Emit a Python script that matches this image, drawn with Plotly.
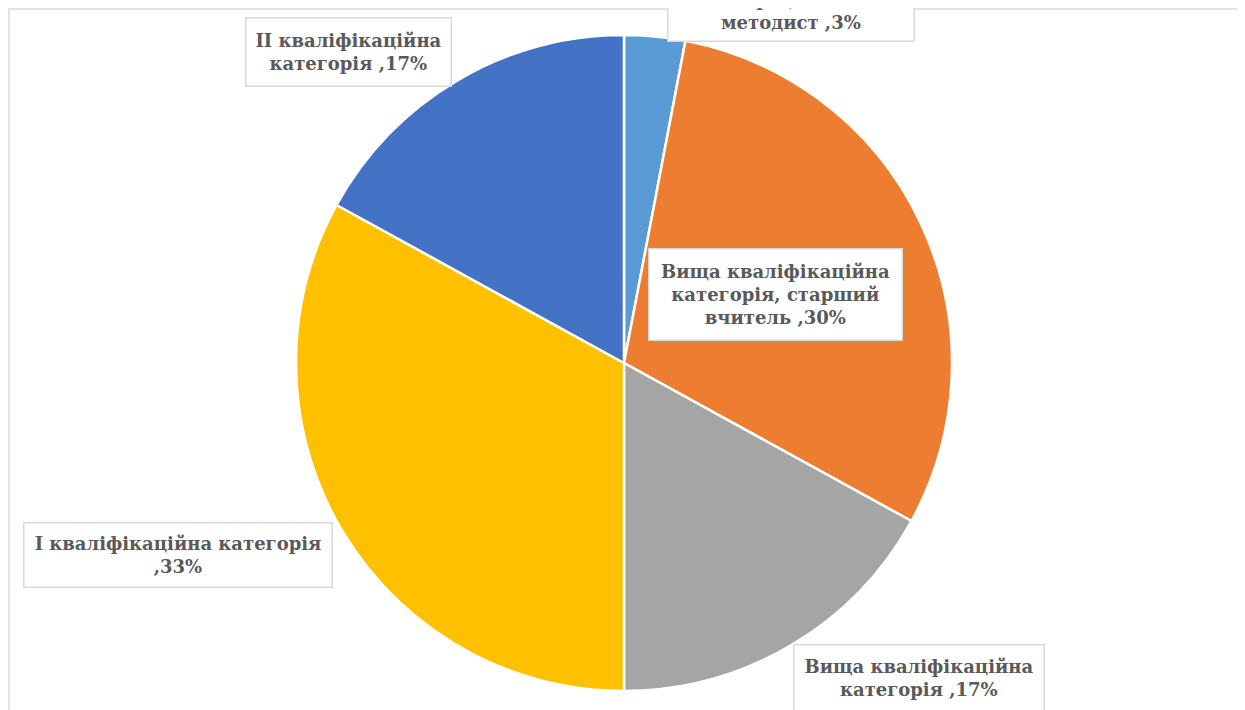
import plotly.graph_objects as go

categories = [
    "Вища кваліфікаційна категорія, вчитель-методист",
    "Вища кваліфікаційна категорія, старший вчитель",
    "Вища кваліфікаційна категорія",
    "І кваліфікаційна категорія",
    "ІІ кваліфікаційна категорія",
]
values = [3, 30, 17, 33, 17]
label_lines = [
    ["Вища кваліфікаційна", "категорія, вчитель-", "методист"],
    ["Вища кваліфікаційна", "категорія, старший", "вчитель"],
    ["Вища кваліфікаційна", "категорія"],
    ["І кваліфікаційна категорія", ""],
    ["ІІ кваліфікаційна", "категорія"],
]
colors = ["#5B9BD5", "#ED7D31", "#A5A5A5", "#FFC000", "#4472C4"]

W, H = 1245, 710
OFF = 8  # page body margin
cx, cy, r = 624 - OFF, 363 - OFF, 328

fig = go.Figure(go.Pie(
    labels=categories,
    values=values,
    sort=False,
    direction="clockwise",
    rotation=0,
    marker=dict(colors=colors, line=dict(color="white", width=2.5)),
    textinfo="none",
    hoverinfo="label+percent",
    domain=dict(x=[(cx - r) / W, (cx + r) / W], y=[1 - (cy + r) / H, 1 - (cy - r) / H]),
    showlegend=False,
))

# label boxes: center x, center y, width, height (screen pixels)
label_boxes = [(791, -1, 248, 86), (775, 294, 255, 93), (919, 678, 252, 68),
               (178, 555, 310, 66), (348, 52, 207, 70)]

annotations = []
for lines, v, (px, py, bw, bh) in zip(label_lines, values, label_boxes):
    if lines[-1]:
        lines = lines[:-1] + [lines[-1] + " ," + str(v) + "%"]
    else:
        lines = lines[:-1] + ["," + str(v) + "%"]
    text = "<br>".join("<b>" + l + "</b>" for l in lines)
    annotations.append(dict(
        x=(px - OFF) / W, y=1 - (py - OFF) / H, xref="paper", yref="paper",
        text=text, showarrow=False, xanchor="center", yanchor="middle",
        width=bw - 5, height=bh - 5,
        font=dict(family="DejaVu Serif", size=18, color="#595959"),
        bgcolor="white", bordercolor="#D9D9D9", borderwidth=1.5, borderpad=1,
        align="center", valign="middle",
    ))

fig.update_layout(
    width=W, height=H,
    margin=dict(l=0, r=0, t=0, b=0),
    paper_bgcolor="white",
    plot_bgcolor="white",
    annotations=annotations,
    shapes=[dict(type="rect", xref="paper", yref="paper",
                 x0=1 / W, x1=(1240 - OFF) / W, y0=-0.05, y1=1 - 1 / H,
                 line=dict(color="#E3E3E3", width=2), layer="below")],
)

fig.write_html("out.html")
